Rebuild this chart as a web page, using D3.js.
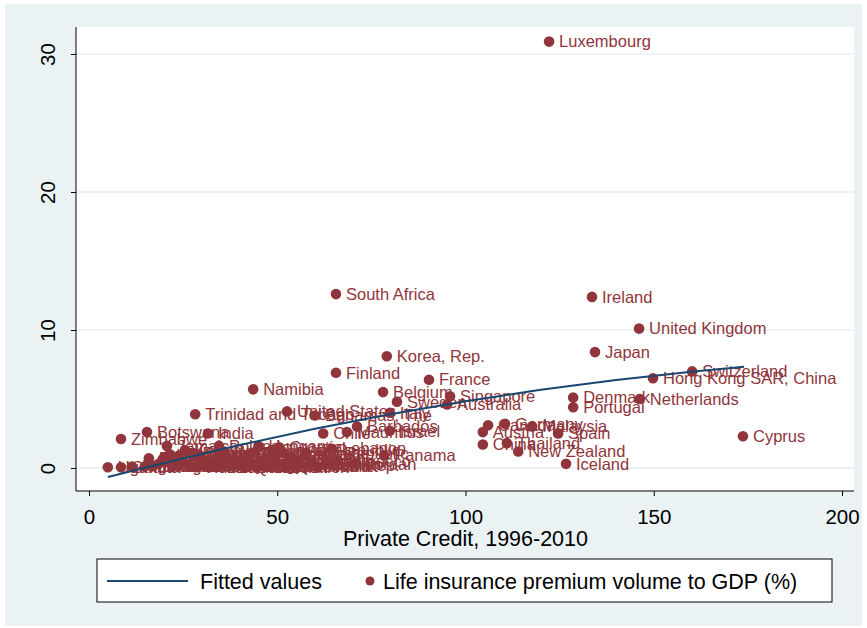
<!DOCTYPE html>
<html>
<head>
<meta charset="utf-8">
<script src="https://cdn.jsdelivr.net/npm/d3@7"></script>
<style>
  html, body { margin: 0; padding: 0; background: #ffffff; }
  svg { display: block; }
  text { font-family: "Liberation Sans", Arial, sans-serif; }
</style>
</head>
<body>
<svg id="chart" width="867" height="628"></svg>
<script>
// Country names, private credit (% of GDP, 1996-2010) and life insurance premium volume (% of GDP)
const countryNames = [
  "Luxembourg", "South Africa", "Ireland", "United Kingdom", "Japan", "Korea, Rep.",
  "Finland", "Switzerland", "Hong Kong SAR, China", "France", "Namibia", "Belgium",
  "Singapore", "Sweden", "Australia", "Denmark", "Portugal", "Netherlands",
  "Trinidad and Tobago", "United States", "Bahamas, The", "Italy", "Barbados", "Israel",
  "Chile", "Mauritius", "Canada", "Germany", "Malaysia", "Austria", "Spain", "China",
  "Thailand", "New Zealand", "Iceland", "Cyprus", "Botswana", "India", "Zimbabwe",
  "Jamaica", "Panama", "Jordan", "Egypt, Arab Rep.", "Czech Republic",
  "Uganda", "Ghana", "Nigeria", "Tanzania", "Mozambique", "Bangladesh", "Pakistan",
  "Argentina", "Mexico", "Indonesia", "Peru", "Ecuador", "Sri Lanka", "Romania",
  "Kenya", "Guatemala", "Dominican Republic", "Philippines", "Russian Federation",
  "Colombia", "Turkey", "Uruguay", "Kazakhstan", "Lithuania", "Poland", "Nepal",
  "Brazil", "Honduras", "Costa Rica", "Serbia", "Bulgaria", "Qatar", "El Salvador",
  "Bolivia", "Ukraine", "Hungary", "Latvia", "Saudi Arabia", "Slovak Republic",
  "Slovenia", "Croatia", "Algeria", "Estonia", "Vietnam", "Greece", "Tunisia",
  "Kuwait", "Oman", "Lebanon", "Morocco"
];
const privateCredit = [
  122.2, 65.6, 133.6, 146.1, 134.4, 79.1,
  65.6, 160.2, 149.8, 90.3, 43.6, 78.1,
  95.9, 81.8, 95.1, 128.6, 128.6, 146.3,
  28.2, 52.6, 60.0, 79.9, 71.2, 79.9,
  62.2, 68.5, 106.0, 110.5, 117.7, 104.6, 124.6, 104.6,
  111.0, 114.0, 126.7, 173.7, 15.4, 31.6, 8.5,
  20.7, 78.4, 70.9, 46.7, 51.5,
  5.0, 8.5, 11.4, 14.8, 15.9, 17.0, 18.5,
  19.5, 20.0, 21.5, 22.5, 23.5, 24.0, 24.5,
  25.5, 26.0, 27.0, 27.5, 28.5,
  29.5, 30.5, 31.0, 32.0, 33.5, 34.5, 35.0,
  36.0, 37.0, 38.0, 39.0, 40.5, 41.5, 42.0,
  43.5, 44.0, 45.0, 46.0, 47.5, 48.5,
  49.5, 50.5, 52.0, 53.5, 55.0, 57.5, 59.0,
  61.0, 63.0, 64.5, 66.0
];
const lifePremium = [
  30.9, 12.6, 12.4, 10.1, 8.4, 8.1,
  6.9, 7.0, 6.5, 6.4, 5.7, 5.5,
  5.2, 4.8, 4.6, 5.1, 4.4, 5.0,
  3.9, 4.1, 3.8, 4.0, 3.0, 2.7,
  2.5, 2.6, 3.1, 3.2, 3.0, 2.6, 2.5, 1.7,
  1.8, 1.2, 0.3, 2.3, 2.6, 2.5, 2.1,
  1.6, 0.9, 0.3, 0.2, 1.1,
  0.05, 0.05, 0.1, 0.1, 0.7, 0.15, 0.3,
  0.6, 0.8, 1.0, 0.5, 0.2, 0.9, 0.4,
  1.3, 0.3, 0.1, 1.1, 0.05,
  0.9, 0.2, 0.5, 0.05, 0.4, 1.6, 0.8,
  1.2, 0.4, 0.15, 0.6, 0.4, 0.05, 0.9,
  1.1, 0.2, 1.6, 0.5, 0.1, 1.3,
  1.0, 1.5, 0.3, 0.8, 0.6, 1.1, 0.4,
  0.1, 0.3, 1.4, 0.5
];

// Fitted values curve, sampled along private credit
const fitCredit = [5, 20, 40, 60, 80, 100, 120, 140, 160, 174];
const fitValues = [-0.65, 0.36, 1.66, 2.85, 3.89, 4.84, 5.67, 6.38, 6.97, 7.33];

// Axis ticks and texts
const xTicks = [0, 50, 100, 150, 200];
const yTicks = [0, 10, 20, 30];
const xTitle = "Private Credit, 1996-2010";
const legendLabels = ["Fitted values", "Life insurance premium volume to GDP (%)"];

const maroon = "#90353b";
const navy = "#1a476f";
const bgColor = "#eaf2f3";

const svg = d3.select("#chart");

// Scales
const x = d3.scaleLinear().domain([0, 200]).range([89, 842]);
const y = d3.scaleLinear().domain([0, 30]).range([468, 54]);

// Plot region limits
const plotLeft = 76, plotRight = 854, plotTop = 27, plotBottom = 491;

// Outer graph region
svg.append("rect")
  .attr("x", 5).attr("y", 4).attr("width", 857).attr("height", 622)
  .attr("fill", bgColor);

// Plot region
svg.append("rect")
  .attr("x", plotLeft).attr("y", plotTop)
  .attr("width", plotRight - plotLeft).attr("height", plotBottom - plotTop)
  .attr("fill", "#ffffff");

// Horizontal gridlines
svg.append("g")
  .selectAll("line")
  .data(yTicks)
  .join("line")
  .attr("x1", plotLeft).attr("x2", plotRight)
  .attr("y1", d => y(d)).attr("y2", d => y(d))
  .attr("stroke", bgColor).attr("stroke-width", 2);

// Y axis
const yAxis = svg.append("g")
  .attr("transform", `translate(${plotLeft},0)`)
  .call(d3.axisLeft(y).tickValues(yTicks).tickSize(5).tickFormat(d3.format("d")));
yAxis.select(".domain").attr("d", `M0,${plotTop}V${plotBottom}`).attr("stroke", "#000").attr("stroke-width", 1);
yAxis.selectAll(".tick line").attr("stroke", "#000");
yAxis.selectAll(".tick text")
  .attr("x", null).attr("dy", null)
  .attr("transform", "translate(-21,0) rotate(-90)")
  .attr("text-anchor", "middle")
  .attr("font-size", 20.5)
  .attr("font-family", "Liberation Sans, Arial, sans-serif")
  .attr("fill", "#000");

// X axis
const xAxis = svg.append("g")
  .attr("transform", `translate(0,${plotBottom})`)
  .call(d3.axisBottom(x).tickValues(xTicks).tickSize(5).tickFormat(d3.format("d")));
xAxis.select(".domain").attr("d", `M${plotLeft},0H${plotRight}`).attr("stroke", "#000").attr("stroke-width", 1);
xAxis.selectAll(".tick line").attr("stroke", "#000");
xAxis.selectAll(".tick text")
  .attr("y", 33).attr("dy", null)
  .attr("font-size", 20.5)
  .attr("font-family", "Liberation Sans, Arial, sans-serif")
  .attr("fill", "#000");

// X axis title
svg.append("text")
  .attr("x", (x(0) + x(200)) / 2).attr("y", 546)
  .attr("text-anchor", "middle")
  .attr("font-size", 21.5)
  .attr("fill", "#000")
  .text(xTitle);

// Scatter points
const points = countryNames.map((name, i) => ({ name, c: privateCredit[i], p: lifePremium[i] }));

svg.append("g")
  .selectAll("circle")
  .data(points)
  .join("circle")
  .attr("cx", d => x(d.c))
  .attr("cy", d => y(d.p))
  .attr("r", 5.3)
  .attr("fill", maroon);

// Marker labels, to the right of each point
svg.append("g")
  .selectAll("text")
  .data(points)
  .join("text")
  .attr("x", d => x(d.c) + 10)
  .attr("y", d => y(d.p))
  .attr("dy", "0.35em")
  .attr("font-size", 16.5)
  .attr("fill", maroon)
  .text(d => d.name);

// Fitted values line
const fitLine = d3.line()
  .x((d, i) => x(fitCredit[i]))
  .y(d => y(d));
svg.append("path")
  .datum(fitValues)
  .attr("d", fitLine)
  .attr("fill", "none")
  .attr("stroke", navy)
  .attr("stroke-width", 2);

// Legend
const legend = svg.append("g");
legend.append("rect")
  .attr("x", 97).attr("y", 559).attr("width", 735).attr("height", 43)
  .attr("fill", "#ffffff").attr("stroke", "#000").attr("stroke-width", 1);
legend.append("line")
  .attr("x1", 107).attr("x2", 188).attr("y1", 581).attr("y2", 581)
  .attr("stroke", navy).attr("stroke-width", 2);
legend.append("text")
  .attr("x", 200).attr("y", 581).attr("dy", "0.35em")
  .attr("font-size", 21.5).attr("fill", "#000")
  .text(legendLabels[0]);
legend.append("circle")
  .attr("cx", 370).attr("cy", 581).attr("r", 4.5)
  .attr("fill", maroon);
legend.append("text")
  .attr("x", 383).attr("y", 581).attr("dy", "0.35em")
  .attr("font-size", 21.5).attr("fill", "#000")
  .text(legendLabels[1]);
</script>
</body>
</html>
